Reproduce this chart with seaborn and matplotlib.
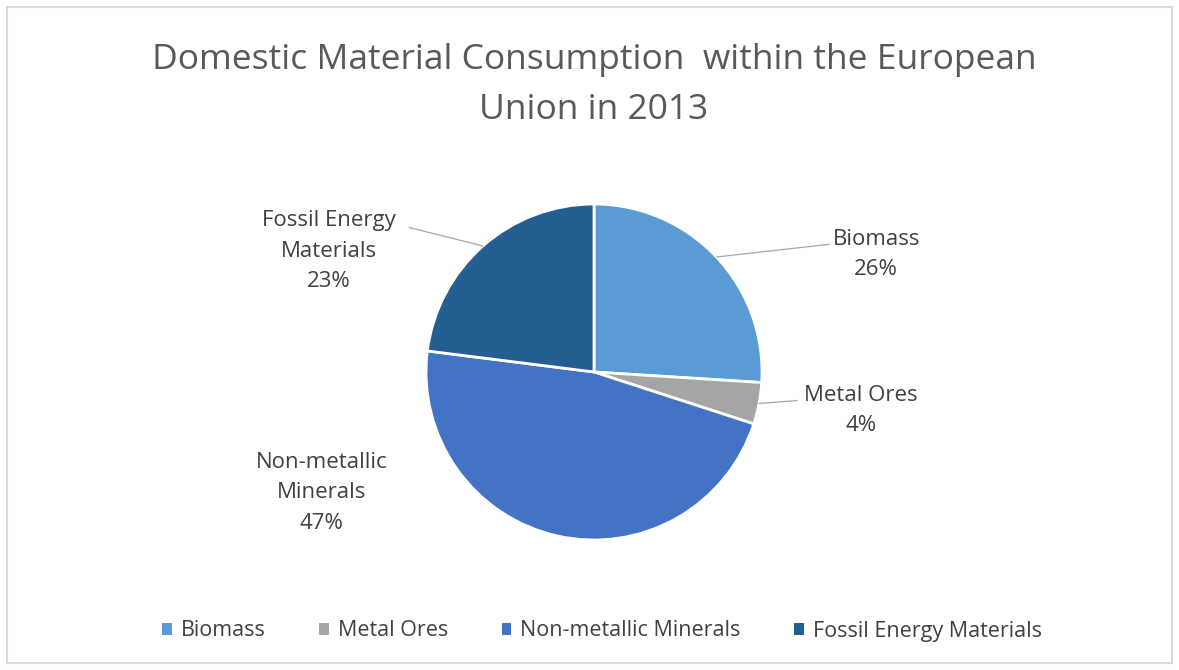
import matplotlib.pyplot as plt
import numpy as np
import seaborn as sns
from matplotlib.patches import Patch, Rectangle

# data
categories = ["Biomass", "Metal Ores", "Non-metallic Minerals", "Fossil Energy Materials"]
shares = [26, 4, 47, 23]
point_labels = ["Biomass\n26%", "Metal Ores\n4%", "Non-metallic\nMinerals\n47%", "Fossil Energy\nMaterials\n23%"]
colors = ["#5B9BD5", "#A5A5A5", "#4472C4", "#255E91"]

sns.set_theme(style="white")
plt.rcParams["font.family"] = ["Open Sans", "DejaVu Sans"]

W, H = 1179, 670
fig = plt.figure(figsize=(W / 100, H / 100), dpi=100)

# pie placed by pixel centre / radius
cx, cy, r = 594, 372, 168
ax = fig.add_axes([(cx - r) / W, (H - cy - r) / H, 2 * r / W, 2 * r / H])
wedges, _ = ax.pie(shares, colors=colors, startangle=90, counterclock=False,
                   radius=1, wedgeprops=dict(edgecolor="white", linewidth=2))
ax.set_xlim(-1, 1)
ax.set_ylim(-1, 1)
ax.set_aspect("equal")
ax.axis("off")

# label positions (data units) and leader-line ends
text_pos = [(1.68, 0.70), (1.59, -0.23), (-1.62, -0.72), (-1.58, 0.72)]
line_end = [(1.40, 0.76), (1.21, -0.17), None, (-1.10, 0.86)]
for w, lab, tp, le in zip(wedges, point_labels, text_pos, line_end):
    ang = np.deg2rad((w.theta1 + w.theta2) / 2)
    x0, y0 = np.cos(ang), np.sin(ang)
    if le is not None:
        ax.plot([x0, le[0]], [y0, le[1]], color="#A6A6A6", lw=0.9, clip_on=False)
    ax.text(tp[0], tp[1], lab, ha="center", va="center", fontsize=16,
            color="#404040", linespacing=1.6, clip_on=False)

fig.text(cx / W, 1 - 85 / H,
         "Domestic Material Consumption  within the European\nUnion in 2013",
         ha="center", va="center", fontsize=25.5, color="#595959", linespacing=1.6)

handles = [Patch(facecolor=c, edgecolor="none") for c in colors]
fig.legend(handles, categories, loc="center", bbox_to_anchor=(602 / W, 1 - 631 / H),
           ncol=4, frameon=False, fontsize=15.5, handlelength=0.45, handleheight=0.45,
           handletextpad=0.4, columnspacing=2.5, labelcolor="#404040")

fig.patches.append(Rectangle((7 / W, 7 / H), 1 - 14 / W, 1 - 14 / H, transform=fig.transFigure,
                             fill=False, edgecolor="#D9D9D9", lw=1.5))

fig.savefig("out.png", dpi=100, facecolor="white")
